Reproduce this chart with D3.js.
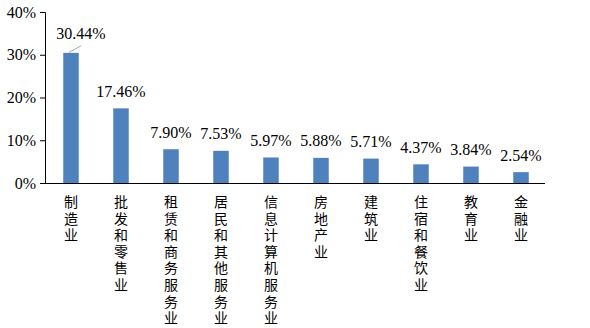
<!DOCTYPE html>
<html>
<head>
<meta charset="utf-8">
<script src="https://cdn.jsdelivr.net/npm/d3@7"></script>
<style>
body { margin: 0; background: #fff; }
svg { display: block; }
text.serif { font-family: 'Liberation Serif', 'DejaVu Serif', serif; font-size: 16px; }
text.cjk { font-family: 'Noto Sans CJK SC', sans-serif; font-size: 14px; }
</style>
</head>
<body>
<svg></svg>
<script>
var width = 590;
var height = 328;

var industries = ['制造业','批发和零售业','租赁和商务服务业','居民和其他服务业','信息计算机服务业','房地产业','建筑业','住宿和餐饮业','教育业','金融业'];
var shares = [30.44, 17.46, 7.90, 7.53, 5.97, 5.88, 5.71, 4.37, 3.84, 2.54];
var yTicks = [0, 10, 20, 30, 40];

var plotLeft = 45, plotRight = 545, plotTop = 12, plotBottom = 183;

var svg = d3.select('svg')
    .attr('width', width)
    .attr('height', height);

var x = d3.scaleBand().domain(industries).range([plotLeft + 1, plotRight + 1]).paddingInner(0.69).paddingOuter(0.345);
var y = d3.scaleLinear().domain([0, 40]).range([plotBottom, plotTop]);

// y axis
var yAxis = d3.axisLeft(y)
    .tickValues(yTicks)
    .tickSize(5)
    .tickPadding(4)
    .tickFormat(d => d + '%');

svg.append('g')
    .attr('transform', `translate(${plotLeft},0)`)
    .call(yAxis)
    .attr('font-family', null)
    .attr('font-size', null)
    .call(g => g.selectAll('text').attr('class', 'serif').attr('fill', '#000'))
    .call(g => g.selectAll('line,path').attr('stroke', '#000'));

// bars
svg.selectAll('rect.bar')
    .data(shares)
    .enter()
    .append('rect')
    .attr('class', 'bar')
    .attr('x', (d, i) => x(industries[i]))
    .attr('y', d => y(d))
    .attr('width', x.bandwidth())
    .attr('height', d => plotBottom - y(d))
    .attr('fill', '#4f81bd');

// x axis line
svg.append('line')
    .attr('x1', plotLeft)
    .attr('x2', plotRight)
    .attr('y1', plotBottom + 0.5)
    .attr('y2', plotBottom + 0.5)
    .attr('stroke', '#000');

// value labels (first one pushed aside with a leader line)
var shift = shares.map((d, i) => i === 0 ? {dx: 10, dy: -2} : {dx: 0, dy: 0});

svg.selectAll('line.leader')
    .data(shares.filter((d, i) => i === 0))
    .enter()
    .append('line')
    .attr('class', 'leader')
    .attr('x1', x(industries[0]) + x.bandwidth() / 2 - 2)
    .attr('y1', d => y(d) - 0.5)
    .attr('x2', x(industries[0]) + x.bandwidth() / 2 + 10)
    .attr('y2', d => y(d) - 7)
    .attr('stroke', '#a6a6a6');

svg.selectAll('text.value')
    .data(shares)
    .enter()
    .append('text')
    .attr('class', 'value serif')
    .attr('x', (d, i) => x(industries[i]) + x.bandwidth() / 2 + shift[i].dx)
    .attr('y', (d, i) => y(d) - 11.5 + shift[i].dy)
    .attr('text-anchor', 'middle')
    .attr('fill', '#000')
    .text(d => d.toFixed(2) + '%');

// vertical category labels, one character per line
svg.selectAll('text.cat')
    .data(industries)
    .enter()
    .append('text')
    .attr('class', 'cat cjk')
    .attr('text-anchor', 'middle')
    .attr('fill', '#000')
    .each(function (d) {
        var cx = x(d) + x.bandwidth() / 2;
        d3.select(this).selectAll('tspan')
            .data(d.split(''))
            .enter()
            .append('tspan')
            .attr('x', cx)
            .attr('y', (c, j) => 207 + j * 16.6)
            .text(c => c);
    });
</script>
</body>
</html>
